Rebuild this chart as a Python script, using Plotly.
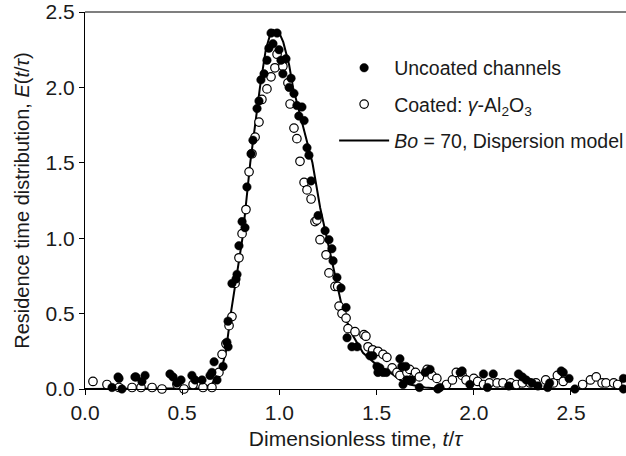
import plotly.graph_objects as go

# Uncoated channels (filled circles)
unc_x = [0.139, 0.17, 0.175, 0.19, 0.257, 0.262, 0.293, 0.309, 0.437, 0.453, 0.473, 0.494, 0.55, 0.566,
         0.602, 0.643, 0.653, 0.664, 0.679, 0.71, 0.73, 0.736, 0.736, 0.756, 0.777, 0.782, 0.792, 0.808,
         0.823, 0.833, 0.854, 0.864, 0.885, 0.895, 0.905, 0.921, 0.936, 0.946, 0.957, 0.967, 0.988,
         0.998, 1.008, 1.018, 1.034, 1.05, 1.06, 1.075, 1.09, 1.10, 1.116, 1.127, 1.142, 1.152, 1.163,
         1.199, 1.235, 1.255, 1.27, 1.276, 1.296, 1.317, 1.343, 1.348, 1.373, 1.40, 1.466, 1.481, 1.502,
         1.507, 1.517, 1.533, 1.55, 1.62, 1.63, 1.636, 1.65, 1.656, 1.68, 1.72, 1.75, 1.775, 1.815,
         1.826, 1.93, 1.94, 1.98, 2.05, 2.07, 2.10, 2.18, 2.23, 2.25, 2.27, 2.30, 2.33, 2.38, 2.39,
         2.45, 2.46, 2.49, 2.52, 2.77, 2.77]
unc_y = [0.01, 0.08, 0.07, 0.0, 0.08, 0.08, 0.05, 0.09, 0.10, 0.08, 0.04, 0.06, 0.09, 0.06,
         0.06, 0.09, 0.11, 0.18, 0.06, 0.15, 0.31, 0.28, 0.45, 0.70, 0.73, 0.76, 0.95, 1.11,
         1.07, 1.34, 1.56, 1.65, 1.86, 1.91, 2.05, 2.09, 2.18, 2.26, 2.36, 2.29, 2.36,
         2.25, 2.18, 2.09, 2.19, 2.00, 2.06, 1.96, 1.88, 1.81, 1.87, 1.78, 1.60, 1.55, 1.38,
         1.15, 1.05, 0.99, 0.93, 0.85, 0.74, 0.67, 0.54, 0.34, 0.28, 0.28, 0.22, 0.22, 0.15,
         0.11, 0.14, 0.11, 0.11, 0.20, 0.15, 0.03, 0.15, 0.06, 0.06, 0.01, 0.11, 0.13, 0.0,
         0.01, 0.11, 0.12, 0.03, 0.10, 0.01, 0.10, 0.02, 0.10, 0.08, 0.06, 0.04, 0.02, 0.01, 0.04,
         0.12, 0.11, 0.07, 0.0, 0.07, 0.0]

# Coated: gamma-Al2O3 (open circles)
coa_x = [0.041, 0.113, 0.175, 0.242, 0.288, 0.345, 0.396, 0.473, 0.509, 0.556, 0.607, 0.653, 0.689,
         0.705, 0.725, 0.741, 0.756, 0.772, 0.792, 0.808, 0.828, 0.844, 0.859, 0.875, 0.895, 0.91,
         0.936, 0.957, 0.977, 0.988, 1.018, 1.044, 1.055, 1.075, 1.09, 1.106, 1.127, 1.142, 1.163,
         1.183, 1.193, 1.209, 1.24, 1.255, 1.286, 1.30, 1.307, 1.322, 1.343, 1.353, 1.389, 1.435,
         1.445, 1.456, 1.48, 1.507, 1.533, 1.553, 1.58, 1.605, 1.62, 1.656, 1.67, 1.70, 1.72, 1.76,
         1.785, 1.81, 1.86, 1.89, 1.91, 1.94, 1.96, 2.0, 2.02, 2.05, 2.08, 2.12, 2.15, 2.19, 2.22,
         2.25, 2.29, 2.32, 2.37, 2.41, 2.43, 2.46, 2.56, 2.60, 2.63, 2.66, 2.68, 2.72, 2.74]
coa_y = [0.05, 0.03, 0.01, 0.01, 0.01, 0.01, 0.0, 0.03, 0.0, 0.03, 0.01, 0.01, 0.11,
         0.23, 0.30, 0.42, 0.48, 0.70, 0.87, 1.03, 1.19, 1.44, 1.56, 1.67, 1.77, 1.92,
         1.99, 2.07, 2.13, 2.22, 2.14, 2.03, 1.89, 1.73, 1.66, 1.51, 1.37, 1.32, 1.26,
         1.11, 1.12, 0.99, 0.89, 0.77, 0.68, 0.68, 0.55, 0.50, 0.47, 0.40, 0.38, 0.36,
         0.35, 0.28, 0.26, 0.25, 0.23, 0.21, 0.14, 0.11, 0.09, 0.11, 0.13, 0.11, 0.08, 0.13,
         0.09, 0.07, 0.03, 0.06, 0.11, 0.09, 0.06, 0.07, 0.05, 0.03, 0.04, 0.04, 0.04, 0.04, 0.03,
         0.04, 0.04, 0.04, 0.06, 0.04, 0.09, 0.05, 0.03, 0.06, 0.08, 0.04, 0.04, 0.04, 0.03]

# Bo = 70 dispersion model curve
mod_x = [0.0, 0.5, 0.6, 0.65, 0.70, 0.725, 0.75, 0.78, 0.81, 0.85, 0.875, 0.90, 0.93, 0.95, 0.97,
         1.00, 1.02, 1.05, 1.07, 1.12, 1.17, 1.21, 1.245, 1.29, 1.33, 1.38, 1.43, 1.50, 1.57, 1.62,
         1.67, 1.75, 1.85, 2.78]
mod_y = [0.0, 0.0, 0.005, 0.03, 0.12, 0.25, 0.50, 0.75, 1.00, 1.50, 1.75, 2.00, 2.25, 2.34, 2.38,
         2.36, 2.30, 2.15, 2.00, 1.75, 1.50, 1.20, 1.00, 0.75, 0.50, 0.35, 0.24, 0.16, 0.11, 0.06,
         0.03, 0.01, 0.0, 0.0]

x_ticks = [0.0, 0.5, 1.0, 1.5, 2.0, 2.5]
y_ticks = [0.0, 0.5, 1.0, 1.5, 2.0, 2.5]

FONT = "Liberation Sans, Arial, sans-serif"
FS = 21
LFS = 19.5

fig = go.Figure()
fig.add_trace(go.Scatter(x=mod_x, y=mod_y, mode="lines", line=dict(color="black", width=2),
                         name="<i>Bo</i> = 70, Dispersion model", legendrank=3,
                         legendgroup="c", cliponaxis=True))
fig.add_trace(go.Scatter(x=coa_x, y=coa_y, mode="markers",
                         marker=dict(symbol="circle", size=8.5, color="white",
                                     line=dict(color="black", width=1.2)),
                         name="Coated: <i>γ</i>-Al<sub>2</sub>O<sub>3</sub>", legendrank=2,
                         legendgroup="b", cliponaxis=False))
fig.add_trace(go.Scatter(x=unc_x, y=unc_y, mode="markers",
                         marker=dict(symbol="circle", size=8.5, color="black",
                                     line=dict(color="black", width=0.5)),
                         name="Uncoated channels", legendrank=1,
                         legendgroup="a", cliponaxis=False))

fig.update_layout(
    width=626, height=456,
    margin=dict(l=85, r=0, t=12, b=67, autoexpand=False),
    plot_bgcolor="white", paper_bgcolor="white",
    font=dict(family=FONT, size=FS, color="#1a1a1a"),
    showlegend=True,
    legend=dict(x=0.4605, y=0.903, xanchor="left", yanchor="top", bgcolor="rgba(0,0,0,0)",
                font=dict(size=LFS), tracegroupgap=8, traceorder="grouped", itemwidth=50),
    xaxis=dict(range=[0, 2.783], tickvals=x_ticks, ticktext=[f"{v:.1f}" for v in x_ticks],
               ticks="outside", ticklen=5, tickcolor="black", showline=True, linecolor="black",
               linewidth=1.2, showgrid=False, zeroline=False, tickfont=dict(size=FS),
               title=dict(text="Dimensionless time, <i>t</i>/<i>τ</i>", font=dict(size=FS), standoff=8)),
    yaxis=dict(range=[0, 2.5], tickvals=y_ticks, ticktext=[f"{v:.1f}" for v in y_ticks],
               ticks="outside", ticklen=5, tickcolor="black", showline=True, linecolor="black",
               linewidth=1.2, showgrid=False, zeroline=False, tickfont=dict(size=FS),
               title=dict(text="Residence time distribution, <i>E</i>(<i>t</i>/<i>τ</i>)",
                          font=dict(size=FS - 1), standoff=10)),
    shapes=[dict(type="line", xref="paper", yref="paper", x0=0, x1=1, y0=1, y1=1,
                 line=dict(color="black", width=1.2))],
)

fig.write_html("out.html")
